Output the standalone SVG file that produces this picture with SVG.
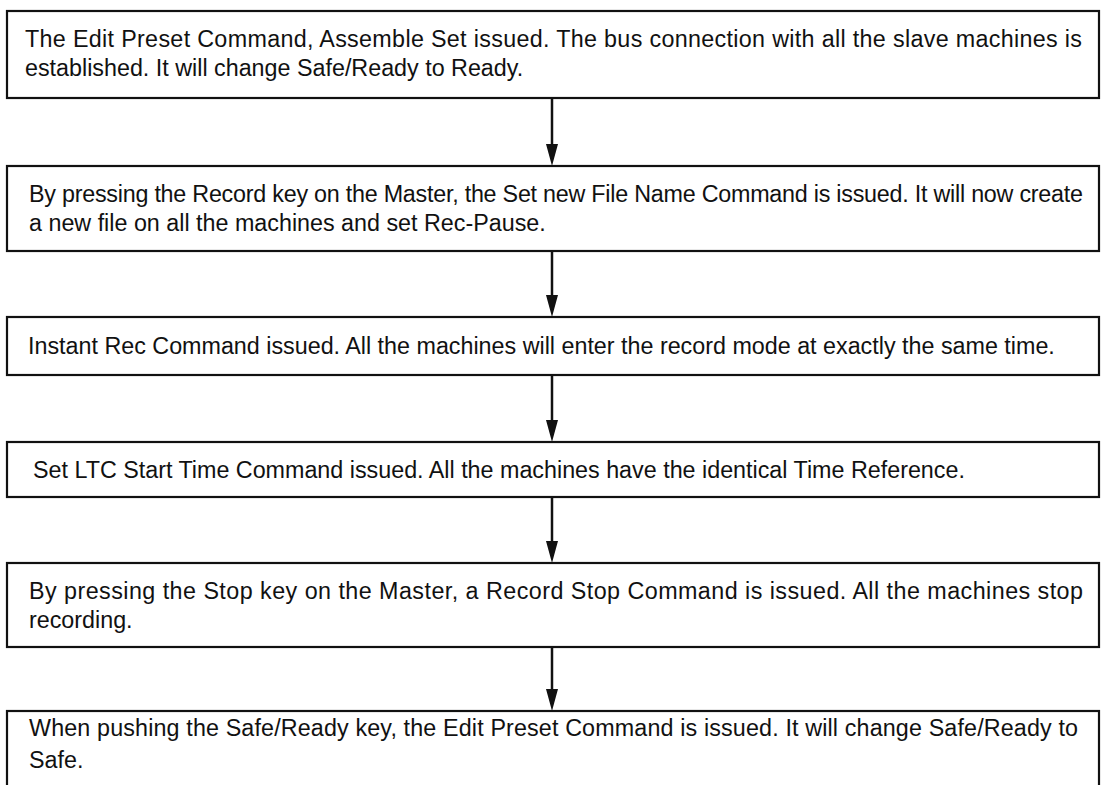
<svg xmlns="http://www.w3.org/2000/svg" width="1102" height="785" viewBox="0 0 1102 785">
<defs>
<style>
.box{fill:#fff;stroke:#111;stroke-width:2.2}
.t{font-family:"Liberation Sans",Arial,sans-serif;font-size:23.3px;fill:#111}
.c{stroke:#111;stroke-width:2.5;fill:none}
</style>
<marker id="ah" markerWidth="22" markerHeight="12" refX="2" refY="6" orient="auto" markerUnits="userSpaceOnUse" viewBox="0 0 22 12">
<path d="M0,0 L22,6 L0,12 Z" fill="#111"/>
</marker>
</defs>
<rect width="1102" height="785" fill="#fff"/>
<g id="connectors">
<line class="c" x1="552" y1="98" x2="552" y2="146" marker-end="url(#ah)"/>
<line class="c" x1="552" y1="251" x2="552" y2="297" marker-end="url(#ah)"/>
<line class="c" x1="552" y1="375" x2="552" y2="422" marker-end="url(#ah)"/>
<line class="c" x1="552" y1="497" x2="552" y2="543" marker-end="url(#ah)"/>
<line class="c" x1="552" y1="647" x2="552" y2="691" marker-end="url(#ah)"/>
</g>
<g id="n1">
<rect class="box" x="7" y="11" width="1092" height="87"/>
<text class="t" x="25" y="47" textLength="1057" lengthAdjust="spacing">The Edit Preset Command, Assemble Set issued. The bus connection with all the slave machines is</text>
<text class="t" x="25" y="76">established. It will change Safe/Ready to Ready.</text>
</g>
<g id="n2">
<rect class="box" x="7" y="166" width="1092" height="85"/>
<text class="t" x="29" y="202" textLength="1054" lengthAdjust="spacing">By pressing the Record key on the Master, the Set new File Name Command is issued. It will now create</text>
<text class="t" x="29" y="231">a new file on all the machines and set Rec-Pause.</text>
</g>
<g id="n3">
<rect class="box" x="7" y="317" width="1092" height="58"/>
<text class="t" x="28" y="354">Instant Rec Command issued. All the machines will enter the record mode at exactly the same time.</text>
</g>
<g id="n4">
<rect class="box" x="7" y="442" width="1092" height="55"/>
<text class="t" x="33" y="478">Set LTC Start Time Command issued. All the machines have the identical Time Reference.</text>
</g>
<g id="n5">
<rect class="box" x="7" y="563" width="1092" height="84"/>
<text class="t" x="29" y="599" textLength="1054" lengthAdjust="spacing">By pressing the Stop key on the Master, a Record Stop Command is issued. All the machines stop</text>
<text class="t" x="29" y="628">recording.</text>
</g>
<g id="n6">
<rect class="box" x="7" y="711" width="1092" height="90"/>
<text class="t" x="29" y="736" textLength="1049" lengthAdjust="spacing">When pushing the Safe/Ready key, the Edit Preset Command is issued. It will change Safe/Ready to</text>
<text class="t" x="29" y="768">Safe.</text>
</g>
</svg>
